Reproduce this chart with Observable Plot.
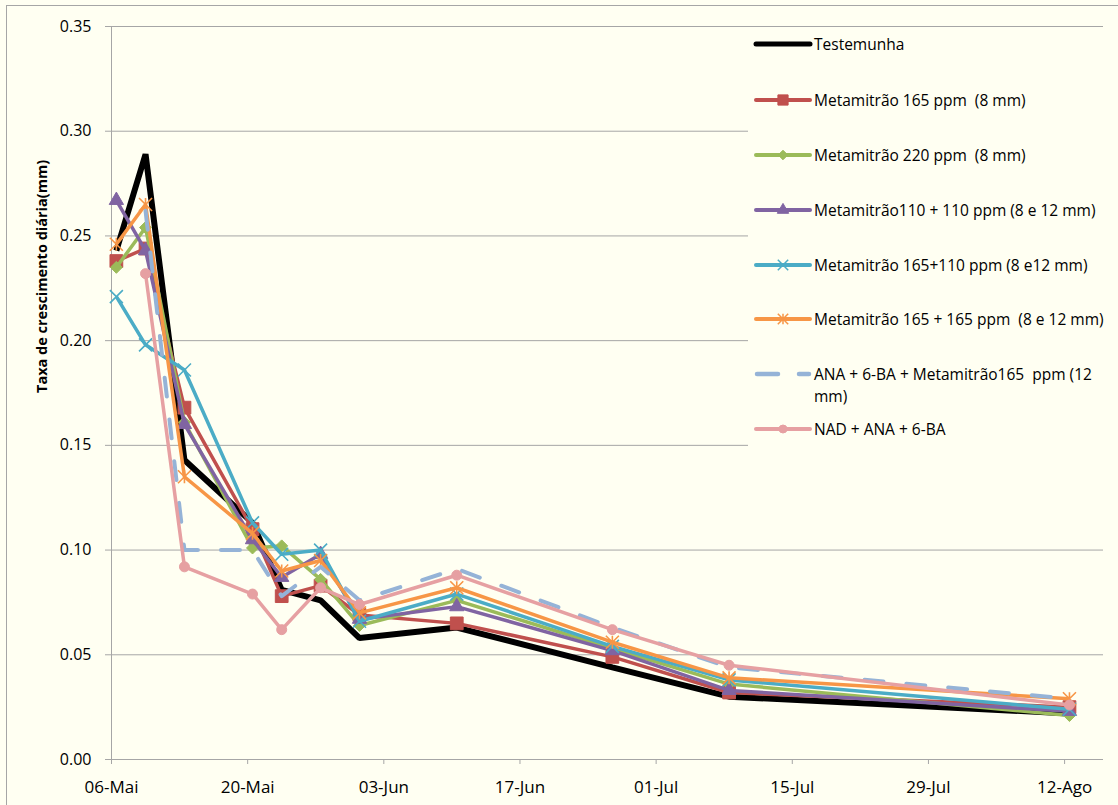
<!DOCTYPE html>
<html>
<head>
<meta charset="utf-8">
<script src="https://cdn.jsdelivr.net/npm/d3@7"></script>
<script src="https://cdn.jsdelivr.net/npm/@observablehq/plot@0.6"></script>
<style>
html,body{margin:0;padding:0;background:#FFFFF2;overflow:hidden;width:1118px;height:805px;position:relative}
#frame{position:absolute;left:6px;top:5px;width:1300px;height:1000px;border:1px solid #a6a6a6;box-sizing:border-box}
#chart{position:absolute;left:0;top:0}
#legend{position:absolute;left:748px;top:33px;width:370px;height:417px;background:#FFFFF2;font-family:"Open Sans",sans-serif;font-size:15.5px;color:#000}
.item{position:absolute;left:0;width:370px;height:22px}
.item svg{position:absolute;left:5px;top:0}
.item .lbl{position:absolute;left:66px;top:0;line-height:22px;white-space:nowrap}
</style>
</head>
<body>
<div id="frame"></div>
<div id="chart"></div>
<div id="legend"></div>
<script>
// ---- data ----
const dates = ["2011-05-06","2011-05-09","2011-05-13","2011-05-20","2011-05-23","2011-05-27","2011-05-31","2011-06-10","2011-06-26","2011-07-08","2011-08-12"];
const seriesNames = [
  "Testemunha",
  "Metamitrão 165 ppm  (8 mm)",
  "Metamitrão 220 ppm  (8 mm)",
  "Metamitrão110 + 110 ppm (8 e 12 mm)",
  "Metamitrão 165+110 ppm (8 e12 mm)",
  "Metamitrão 165 + 165 ppm  (8 e 12 mm)",
  "ANA + 6-BA + Metamitrão165  ppm (12 mm)",
  "NAD + ANA + 6-BA"
];
const testemunha = [0.243, 0.289, 0.143, 0.113, 0.081, 0.076, 0.058, 0.063, 0.044, 0.030, 0.022];
const met165     = [0.238, 0.244, 0.168, 0.110, 0.078, 0.083, 0.069, 0.065, 0.049, 0.032, 0.025];
const met220     = [0.235, 0.254, 0.161, 0.101, 0.102, 0.086, 0.064, 0.076, 0.053, 0.036, 0.021];
const met110_110 = [0.267, 0.243, 0.160, 0.105, 0.087, 0.098, 0.067, 0.073, 0.052, 0.033, 0.023];
const met165_110 = [0.221, 0.198, 0.186, 0.113, 0.098, 0.100, 0.066, 0.079, 0.054, 0.038, 0.024];
const met165_165 = [0.246, 0.265, 0.135, 0.108, 0.090, 0.095, 0.070, 0.082, 0.056, 0.039, 0.029];
const anaBaMet   = [null,  0.262, 0.100, 0.100, 0.078, 0.092, 0.076, 0.091, 0.063, 0.044, 0.029];
const nadAnaBa   = [null,  0.232, 0.092, 0.079, 0.062, 0.082, 0.074, 0.088, 0.062, 0.045, 0.026];
const seriesValues = [testemunha, met165, met220, met110_110, met165_110, met165_165, anaBaMet, nadAnaBa];

const xTickDates  = ["2011-05-06","2011-05-20","2011-06-03","2011-06-17","2011-07-01","2011-07-15","2011-07-29","2011-08-12"];
const xTickLabels = ["06-Mai","20-Mai","03-Jun","17-Jun","01-Jul","15-Jul","29-Jul","12-Ago"];
const yTicks = [0, 0.05, 0.10, 0.15, 0.20, 0.25, 0.30, 0.35];
const yTitle = "Taxa de crescimento diária(mm)";

// ---- styles ----
const colors = ["#000000","#C0504D","#9BBB59","#8064A2","#4BACC6","#F79646","#95B3D7","#E6A0A2"];
const grid = "#a6a6a6";
const xSym = {draw(ctx, size){const r = Math.sqrt(size/Math.PI); ctx.moveTo(-r,-r); ctx.lineTo(r,r); ctx.moveTo(-r,r); ctx.lineTo(r,-r);}};
const starSym = {draw(ctx, size){const r = Math.sqrt(size/Math.PI); ctx.moveTo(-r,-r); ctx.lineTo(r,r); ctx.moveTo(-r,r); ctx.lineTo(r,-r); ctx.moveTo(0,-r); ctx.lineTo(0,r);}};
const styles = [
  {width: 6, join: "miter", symbol: null},
  {width: 3.5, symbol: "square", r: 7.2, filled: true},
  {width: 3.5, symbol: "diamond2", r: 5.4, filled: true},
  {width: 3.5, symbol: "triangle", r: 5.3, filled: true},
  {width: 3.5, symbol: xSym, r: 6.5, filled: false},
  {width: 3.5, symbol: starSym, r: 6.5, filled: false},
  {width: 4, symbol: null, dash: "19,23", cap: "round"},
  {width: 3.5, symbol: "circle", r: 5, filled: true}
];

const toDate = s => new Date(s + "T12:00:00Z"); // Excel places points mid-day
const dayStart = s => new Date(s + "T00:00:00Z");
const xStart = dayStart(dates[0]);
const xEnd = new Date(xStart.getTime() + 102 * 864e5);

const seriesMarks = [];
seriesNames.forEach((name, k) => {
  const rows = dates.map((d, i) => ({date: toDate(d), value: seriesValues[k][i]})).filter(r => r.value != null);
  const st = styles[k];
  seriesMarks.push(Plot.line(rows, {
    x: "date", y: "value", stroke: colors[k], strokeWidth: st.width,
    strokeLinejoin: st.join || "round", strokeLinecap: st.cap || "butt",
    strokeDasharray: st.dash || null
  }));
  if (st.symbol) {
    seriesMarks.push(Plot.dot(rows, st.filled
      ? {x: "date", y: "value", symbol: st.symbol, r: st.r, fill: colors[k], stroke: colors[k], strokeWidth: 1}
      : {x: "date", y: "value", symbol: st.symbol, r: st.r, fill: "none", stroke: colors[k], strokeWidth: 1.6}));
  }
});

const tickMap = new Map(xTickDates.map((d, i) => [dayStart(d).getTime(), xTickLabels[i]]));

const chart = Plot.plot({
  width: 1118, height: 805,
  marginTop: 26, marginBottom: 46, marginLeft: 111, marginRight: 15,
  style: {background: "transparent", fontFamily: "Open Sans, sans-serif", overflow: "visible"},
  x: {type: "utc", domain: [xStart, xEnd]},
  y: {domain: [0, 0.35]},
  marks: [
    Plot.ruleY(yTicks, {stroke: grid, strokeWidth: 1}),
    Plot.ruleX([xStart], {stroke: grid, strokeWidth: 1}),
    Plot.axisY({ticks: yTicks, tickFormat: d3.format(".2f"), tickSize: 6, tickPadding: 14, fontSize: 16, stroke: grid, fill: "#000", label: null}),
    Plot.axisX({ticks: xTickDates.map(dayStart), tickFormat: d => tickMap.get(d.getTime()), tickSize: 5, tickPadding: 16, fontSize: 17, stroke: grid, fill: "#000", label: null}),
    Plot.text([yTitle], {frameAnchor: "left", rotate: -90, dx: -69, fontWeight: "bold", fontSize: 14.5, fill: "#000"}),
    ...seriesMarks
  ]
});
document.getElementById("chart").appendChild(chart);

// ---- legend ----
const legendCenters = [44, 100, 155, 210, 265, 319, 374, 429];
const legend = document.getElementById("legend");
const legendTop = 33;
seriesNames.forEach((name, k) => {
  const item = document.createElement("div");
  item.className = "item";
  item.style.top = (legendCenters[k] - legendTop - 11) + "px";
  const svg = d3.create("svg").attr("width", 60).attr("height", 22);
  const st = styles[k];
  const cy = 11;
  if (st.dash) {
    svg.append("line").attr("x1", 4).attr("x2", 25).attr("y1", cy).attr("y2", cy)
      .attr("stroke", colors[k]).attr("stroke-width", 4.5).attr("stroke-linecap", "round");
    svg.append("line").attr("x1", 46).attr("x2", 56).attr("y1", cy).attr("y2", cy)
      .attr("stroke", colors[k]).attr("stroke-width", 4.5).attr("stroke-linecap", "round");
  } else {
    svg.append("line").attr("x1", 3).attr("x2", 57).attr("y1", cy).attr("y2", cy)
      .attr("stroke", colors[k]).attr("stroke-width", k === 0 ? 5 : 4).attr("stroke-linecap", "round");
  }
  if (st.symbol) {
    const symMap = {square: d3.symbolSquare, diamond2: d3.symbolDiamond2, triangle: d3.symbolTriangle, circle: d3.symbolCircle};
    const sym = typeof st.symbol === "string" ? symMap[st.symbol] : st.symbol;
    const rr = st.r * 0.8;
    const p = d3.symbol(sym, rr * rr * Math.PI)();
    svg.append("path").attr("d", p).attr("transform", `translate(30,${cy})`)
      .attr("fill", st.filled ? colors[k] : "none").attr("stroke", colors[k]).attr("stroke-width", st.filled ? 1 : 1.5);
  }
  item.appendChild(svg.node());
  const lbl = document.createElement("div");
  lbl.className = "lbl";
  if (k === 6) {
    lbl.innerHTML = "ANA + 6-BA + Metamitrão165&nbsp; ppm (12<br>mm)";
  } else {
    lbl.textContent = name;
    lbl.style.whiteSpace = "pre";
  }
  item.appendChild(lbl);
  legend.appendChild(item);
});
</script>
</body>
</html>
